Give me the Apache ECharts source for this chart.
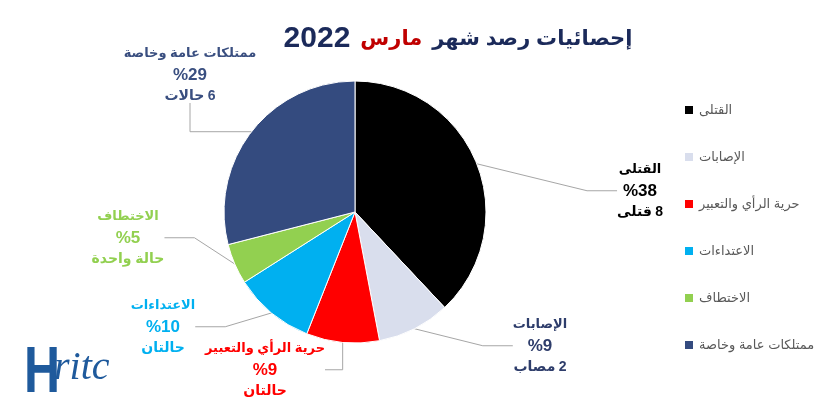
<!DOCTYPE html>
<html>
<head>
<meta charset="utf-8">
<script src="https://cdn.jsdelivr.net/npm/echarts@6/dist/echarts.min.js"></script>
<style>html,body{margin:0;padding:0;background:#fff}#c{width:832px;height:412px}</style>
</head>
<body>
<div id="c"></div>
<script>
const categories = ["القتلى", "الإصابات", "حرية الرأي والتعبير", "الاعتداءات", "الاختطاف", "ممتلكات عامة وخاصة"];
const percents = [38, 9, 9, 10, 5, 29];
const countLabels = ["8 قتلى", "2 مصاب", "حالتان", "حالتان", "حالة واحدة", "6 حالات"];
const sliceColors = ["#000000", "#d9deed", "#ff0000", "#00b0f0", "#92d050", "#344b7f"];
const labelColors = ["#000000", "#2e3d6b", "#ff0000", "#00b0f0", "#92d050", "#3a4f80"];
const labelPos = [[640, 190], [540, 345], [265, 369], [163, 326], [128, 237], [190, 74]];

const FF = 'Arial, DejaVu Sans, sans-serif';
// right-to-left visual order: the number sits to the right of the word
function countRich(s) {
  const m = s.match(/^(\d+) (.+)$/);
  return m ? '{c|' + m[2] + '} {c|' + m[1] + '}' : '{c|' + s + '}';
}
const chart = echarts.init(document.getElementById('c'), null, {renderer: 'canvas'});
chart.setOption({
  backgroundColor: '#ffffff',
  animation: false,
  title: {
    text: '{n|2022}  {a|مارس}  {t|إحصائيات رصد شهر}',
    left: 453, top: 17, textAlign: 'center',
    textStyle: {
      rich: {
        n: {fontSize: 30, fontWeight: 'bold', color: '#1b2a5a', fontFamily: FF, lineHeight: 34},
        t: {fontSize: 21, fontWeight: 'bold', color: '#1b2a5a', fontFamily: FF, lineHeight: 34},
        a: {fontSize: 21, fontWeight: 'bold', color: '#c00000', fontFamily: FF, lineHeight: 34}
      }
    }
  },
  legend: {
    orient: 'vertical', left: 678, top: 98,
    itemWidth: 10, itemHeight: 10, itemGap: 33,
    icon: 'rect',
    data: categories,
    textStyle: {color: '#595959', fontSize: 13, lineHeight: 14, fontFamily: FF}
  },
  series: [{
    type: 'pie',
    center: [355, 212],
    radius: 131,
    startAngle: 90,
    clockwise: true,
    itemStyle: {borderColor: '#ffffff', borderWidth: 1},
    data: categories.map((n, i) => ({
      name: n, value: percents[i],
      itemStyle: {color: sliceColors[i]},
      label: {color: labelColors[i]}
    })),
    label: {
      show: true,
      position: 'outside',
      formatter: p => '{n|' + p.name + '}\n{p|%' + percents[p.dataIndex] + '}\n' + countRich(countLabels[p.dataIndex]),
      fontWeight: 'bold', align: 'center', fontFamily: FF,
      rich: {
        n: {fontSize: 13, fontWeight: 'bold', lineHeight: 22, fontFamily: FF},
        p: {fontSize: 17, fontWeight: 'bold', lineHeight: 22, fontFamily: FF},
        c: {fontSize: 14, fontWeight: 'bold', lineHeight: 20, fontFamily: FF}
      }
    },
    labelLine: {show: true, lineStyle: {color: '#a6a6a6', width: 1}},
    labelLayout: p => ({x: labelPos[p.dataIndex][0], y: labelPos[p.dataIndex][1], align: 'center', verticalAlign: 'middle'})
  }],
  graphic: [
    {type: 'text', left: 24, top: 342, scaleX: 0.78, style: {text: 'H', fontSize: 64, fontWeight: 'bold', fill: '#1f5a9c', fontFamily: 'Liberation Sans, Arial, sans-serif'}},
    {type: 'text', left: 54, top: 348, style: {text: 'ritc', fontSize: 40, fontStyle: 'italic', fill: '#1f5a9c', fontFamily: 'Liberation Serif, serif'}}
  ]
});
</script>
</body>
</html>
